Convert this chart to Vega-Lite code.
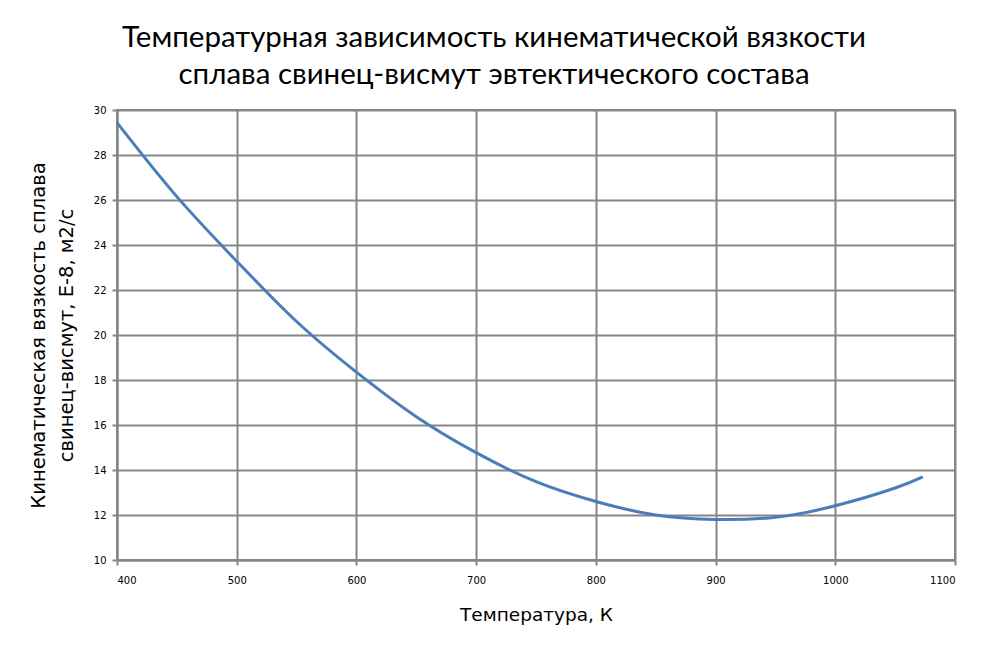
{
  "$schema": "https://vega.github.io/schema/vega-lite/v6.json",
  "width": 838,
  "height": 450,
  "autosize": {"type": "none"},
  "padding": {"left": 117, "top": 110, "right": 32, "bottom": 88},
  "background": "white",
  "title": {
    "text": ["Температурная зависимость кинематической вязкости", "сплава свинец-висмут эвтектического состава"],
    "font": "Lato",
    "fontSize": 29.5,
    "fontWeight": "normal",
    "color": "black",
    "lineHeight": 37,
    "anchor": "middle",
    "offset": 15,
    "dx": -42
  },
  "data": {
    "values": [
      {"T": 400, "nu": 29.44},
      {"T": 450, "nu": 26.15},
      {"T": 500, "nu": 23.28},
      {"T": 550, "nu": 20.6},
      {"T": 600, "nu": 18.35},
      {"T": 650, "nu": 16.37},
      {"T": 700, "nu": 14.77},
      {"T": 750, "nu": 13.48},
      {"T": 800, "nu": 12.6},
      {"T": 850, "nu": 12.0},
      {"T": 900, "nu": 11.8},
      {"T": 950, "nu": 11.9},
      {"T": 1000, "nu": 12.41},
      {"T": 1050, "nu": 13.2},
      {"T": 1073, "nu": 13.69}
    ]
  },
  "mark": {"type": "line", "interpolate": "natural", "color": "#4a7ebb", "strokeWidth": 3},
  "encoding": {
    "x": {
      "field": "T",
      "type": "quantitative",
      "scale": {"domain": [400, 1100], "nice": false, "zero": false},
      "axis": {
        "values": [400, 500, 600, 700, 800, 900, 1000, 1100],
        "format": "d",
        "title": "Температура, К",
        "titleFont": "DejaVu Sans",
        "titleFontSize": 18.5,
        "titleFontWeight": "normal",
        "titleColor": "black",
        "titlePadding": 20,
        "labelFont": "DejaVu Sans",
        "labelFontSize": 10,
        "labelColor": "black",
        "labelPadding": 10
      }
    },
    "y": {
      "field": "nu",
      "type": "quantitative",
      "scale": {"domain": [10, 30], "nice": false, "zero": false},
      "axis": {
        "values": [10, 12, 14, 16, 18, 20, 22, 24, 26, 28, 30],
        "title": ["Кинематическая  вязкость  сплава", "свинец-висмут, Е-8,  м2/с"],
        "titleFont": "DejaVu Sans",
        "titleFontSize": 19.5,
        "titleFontWeight": "normal",
        "titleColor": "black",
        "titleLineHeight": 28,
        "titlePadding": 17,
        "labelFont": "DejaVu Sans",
        "labelFontSize": 10,
        "labelColor": "black",
        "labelPadding": 6
      }
    }
  },
  "config": {
    "view": {"stroke": "#868686", "strokeWidth": 2},
    "axis": {
      "gridColor": "#868686",
      "gridWidth": 2,
      "gridOpacity": 1,
      "domainColor": "#868686",
      "domainWidth": 2,
      "tickColor": "#868686",
      "tickWidth": 2,
      "tickSize": 5
    }
  }
}
